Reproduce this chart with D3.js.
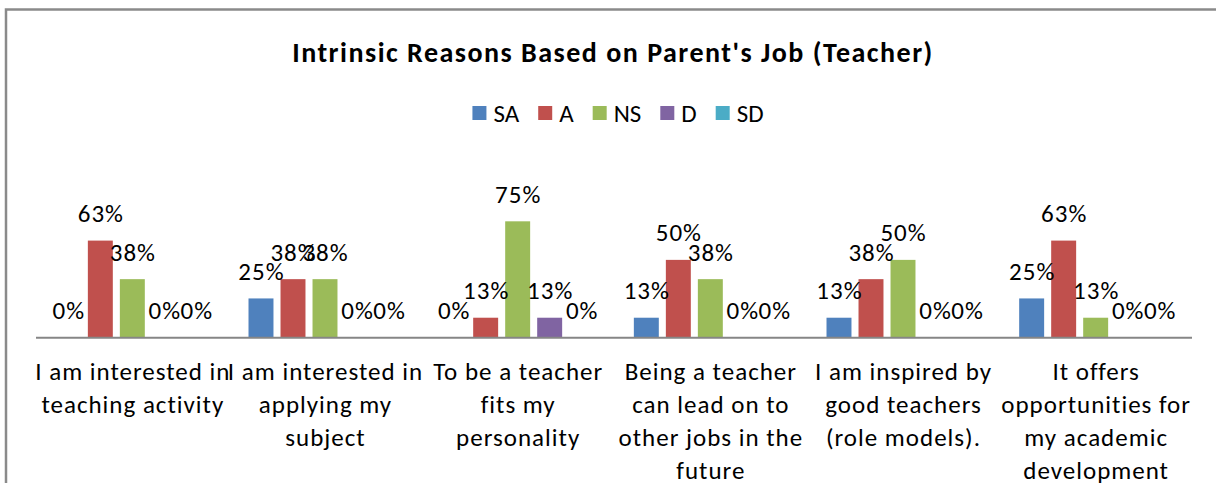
<!DOCTYPE html>
<html>
<head>
<meta charset="utf-8">
<script src="https://cdn.jsdelivr.net/npm/d3@7"></script>
<style>
    html, body { margin: 0; padding: 0; background: #fff; }
    svg { display: block; }
    text { font-family: Carlito, Calibri, Lato, sans-serif; fill: #000; }
</style>
</head>
<body>
<div class="svg-container"></div>
<script>
// Data
const categories = [
    "I am interested in\nteaching activity",
    "I am interested in\napplying my\nsubject",
    "To be a teacher\nfits my\npersonality",
    "Being a teacher\ncan lead on to\nother jobs in the\nfuture",
    "I am inspired by\ngood teachers\n(role models).",
    "It offers\nopportunities for\nmy academic\ndevelopment"
];
const seriesNames = ["SA", "A", "NS", "D", "SD"];
const seriesColors = ["#4F81BD", "#C0504D", "#9BBB59", "#8064A2", "#4BACC6"];

const SA = [0, 25, 0, 12.5, 12.5, 25];
const A  = [62.5, 37.5, 12.5, 50, 37.5, 62.5];
const NS = [37.5, 37.5, 75, 37.5, 50, 12.5];
const D  = [0, 0, 12.5, 0, 0, 0];
const SD = [0, 0, 0, 0, 0, 0];

const seriesValues = [SA, A, NS, D, SD];
const title = "Intrinsic Reasons Based on Parent's Job (Teacher)";

/**
 * Chart
 *      draws the grouped bar chart
 */
const chart = (() => {
    const W = 1216, H = 483;
    const FONT = 25;

    const svg = d3.select('.svg-container').append('svg')
        .attr('width', W)
        .attr('height', H);

    svg.append('rect').attr('width', W).attr('height', H).attr('fill', '#fff');

    // outer frame (only top & left visible)
    svg.append('rect')
        .attr('x', 6).attr('y', 9.5)
        .attr('width', W + 20).attr('height', H + 20)
        .attr('fill', 'none')
        .attr('stroke', '#8a8a8a')
        .attr('stroke-width', 2.5);

    // scales
    const x0 = d3.scaleBand()
        .domain(d3.range(categories.length))
        .range([36, 1192])
        .paddingInner(0).paddingOuter(0);

    const x1 = d3.scaleBand()
        .domain(seriesNames)
        .range([0, x0.bandwidth()])
        .paddingInner(0.22)
        .paddingOuter(0.62);

    const y = d3.scaleLinear()
        .domain([0, 80])
        .range([337, 213.6]);

    // title
    svg.append('text')
        .attr('x', 613).attr('y', 61.5)
        .attr('text-anchor', 'middle')
        .attr('font-weight', 'bold')
        .attr('font-size', 28)
        .attr('letter-spacing', 1.5)
        .text(title);

    // legend
    const legend = svg.append('g');
    let lx = 0;
    seriesNames.forEach((name, i) => {
        const item = legend.append('g').attr('transform', `translate(${lx},0)`);
        item.append('rect')
            .attr('x', 0).attr('y', 106)
            .attr('width', 14).attr('height', 14)
            .attr('fill', seriesColors[i]);
        const t = item.append('text')
            .attr('x', 21).attr('y', 121.5)
            .attr('font-size', FONT)
            .text(name);
        lx += 21 + t.node().getComputedTextLength() + 19;
    });
    lx -= 19;
    legend.attr('transform', `translate(${618 - lx / 2},0)`);

    // bars
    const groups = svg.append('g').selectAll('g')
        .data(categories)
        .enter()
        .append('g')
        .attr('transform', (d, i) => `translate(${x0(i)},0)`);

    groups.selectAll('rect')
        .data((d, i) => seriesNames.map((s, k) => ({ s: s, k: k, v: seriesValues[k][i] })))
        .enter()
        .append('rect')
        .attr('x', d => x1(d.s))
        .attr('y', d => y(d.v))
        .attr('width', x1.bandwidth())
        .attr('height', d => y(0) - y(d.v))
        .attr('fill', d => seriesColors[d.k]);

    // data labels
    groups.selectAll('text.lbl')
        .data((d, i) => seriesNames.map((s, k) => ({ s: s, k: k, v: seriesValues[k][i] })))
        .enter()
        .append('text')
        .attr('class', 'lbl')
        .attr('x', d => x1(d.s) + x1.bandwidth() / 2 + 0.5)
        .attr('y', d => y(d.v) - 18.5)
        .attr('text-anchor', 'middle')
        .attr('font-size', FONT)
        .attr('letter-spacing', 1)
        .text(d => Math.round(d.v) + '%');

    // axis line
    svg.append('line')
        .attr('x1', 36).attr('x2', 1192)
        .attr('y1', 337.8).attr('y2', 337.8)
        .attr('stroke', '#868686')
        .attr('stroke-width', 2);

    // category labels
    groups.append('text')
        .attr('text-anchor', 'middle')
        .attr('font-size', FONT)
        .attr('letter-spacing', 1)
        .selectAll('tspan')
        .data(d => d.split('\n'))
        .enter()
        .append('tspan')
        .attr('x', x0.bandwidth() / 2 + 0.5)
        .attr('y', (d, i) => 380 + i * 33)
        .text(d => d);
})();
</script>
</body>
</html>
